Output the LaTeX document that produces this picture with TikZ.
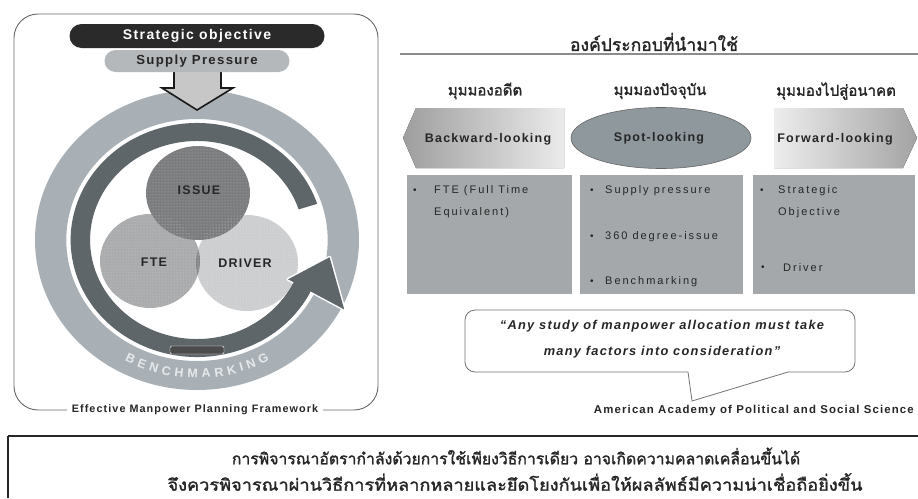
\documentclass[tikz,border=0pt]{standalone}
\usepackage{fontspec}
\setmainfont{Liberation Sans}
\newfontfamily\lsans[LetterSpace=10]{Liberation Sans}
\newfontfamily\lsanswide[LetterSpace=18]{Liberation Sans}
\newfontfamily\thai[Script=Thai, FakeBold=1.6]{Loma}
\usetikzlibrary{decorations.text,shapes.geometric,patterns}
\definecolor{pilldark}{HTML}{2A2A2A}
\definecolor{pilllight}{HTML}{B4B8BB}
\definecolor{ringlight}{HTML}{A9B0B5}
\definecolor{ringdark}{HTML}{5F666A}
\definecolor{issuec}{HTML}{7A7C7E}
\definecolor{ftec}{HTML}{A9ABAD}
\definecolor{driverc}{HTML}{CDCECF}
\definecolor{lensc}{HTML}{838587}
\definecolor{boxc}{HTML}{A4A8AB}
\definecolor{spotc}{HTML}{8F989D}
\definecolor{txt}{HTML}{262626}
\definecolor{benchc}{HTML}{E6E9EB}
\tikzset{
  pillstrat/.style={fill=pilldark, text=white, rounded corners=12pt, minimum width=255pt, minimum height=24pt, inner sep=0pt, font=\lsans\bfseries\fontsize{14}{14}\selectfont},
  pillsupply/.style={fill=pilllight, text=txt, rounded corners=11pt, minimum width=185pt, minimum height=22pt, inner sep=0pt, font=\lsans\bfseries\fontsize{13.2}{13.2}\selectfont},
  circlabel/.style={text=txt, font=\lsans\bfseries\fontsize{12.5}{12.5}\selectfont, inner sep=1pt},
  thaihead/.style={text=txt, font=\thai\fontsize{15}{15}\selectfont, inner sep=1pt},
  thaititle/.style={text=txt, font=\thai\fontsize{17.5}{17.5}\selectfont, inner sep=1pt},
  shapelabel/.style={text=txt, font=\lsans\bfseries\fontsize{12.5}{12.5}\selectfont, inner sep=1pt},
  boxtext/.style={text=black!85, anchor=west, font=\lsanswide\fontsize{11}{11}\selectfont, inner sep=0pt},
  bullet/.style={text=black!85, anchor=west, font=\fontsize{10}{10}\selectfont, inner sep=0pt},
  greybox/.style={fill=boxc},
  quote/.style={text=txt, font=\lsans\bfseries\itshape\fontsize{12.8}{12.8}\selectfont, inner sep=1pt},
  caption/.style={text=txt, font=\lsans\bfseries\fontsize{10.8}{10.8}\selectfont, inner sep=1pt},
  thaibottom/.style={text=txt, font=\thai\fontsize{#1}{#1}\selectfont, inner sep=1pt},
  dotted texture/.style={pattern=dots, pattern color=white},
}
\begin{document}
\begin{tikzpicture}[x=1pt,y=-1pt]
\useasboundingbox (0,0) rectangle (918,498);
\fill[white] (0,0) rectangle (918,498);

% ---------- left framework ----------
\draw[draw=black!60, line width=0.9pt, rounded corners=24pt] (14,14) rectangle (378,410);

\begin{scope}[shift={(197,240)}, x=1.08pt, y=1pt]
  \fill[ringlight, even odd rule] (0,0) circle (150) (0,0) circle (121);
  \fill[ringdark] (18:117) arc[start angle=18, end angle=337, radius=117]
     -- (337:99) arc[start angle=337, end angle=18, radius=99] -- cycle;
  \fill[black!70, draw=white!70, line width=0.4pt, rounded corners=2pt] (-25,-106) rectangle (25,-114);
  \path[decorate, decoration={text along path, text align=fit to path,
     text={|\bfseries\fontsize{12.5}{12.5}\selectfont\color{benchc}|BENCHMARKING}}]
     (241:138) arc[start angle=241, end angle=299, radius=138];
\end{scope}

% three circles
\fill[ftec] (150,261) ellipse[x radius=50, y radius=47];
\fill[driverc] (247,263) ellipse[x radius=51, y radius=48];
\begin{scope}
  \clip (150,261) ellipse[x radius=50, y radius=47];
  \fill[lensc] (247,263) ellipse[x radius=51, y radius=48];
\end{scope}
\fill[issuec] (198,193) ellipse[x radius=52, y radius=47];
\begin{scope}[opacity=0.45]
  \fill[dotted texture] (150,261) ellipse[x radius=50, y radius=47];
  \fill[dotted texture] (247,263) ellipse[x radius=51, y radius=48];
  \fill[dotted texture] (198,193) ellipse[x radius=52, y radius=47];
\end{scope}

% ring arrow head
\begin{scope}[shift={(197,240)}, x=1.08pt, y=1pt]
  \draw[white, line width=3pt, line join=round] (335:93) -- (352:124) -- (333:153) -- cycle;
  \fill[ringdark] (300:117) arc[start angle=300, end angle=337, radius=117]
     -- (337:99) arc[start angle=337, end angle=300, radius=99] -- cycle;
  \fill[ringdark] (335:93) -- (352:124) -- (333:153) -- cycle;
\end{scope}

\node[circlabel] (issue) at (199,190) {ISSUE};
\node[circlabel] (fte) at (154,262) {FTE};
\node[circlabel] (driver) at (245,263) {DRIVER};

% down arrow
\draw[fill=black!22, draw=black!90, line width=1.6pt, line join=miter]
  (174,66) -- (221,66) -- (221,88) -- (233,88) -- (197,110) -- (162,88) -- (174,88) -- cycle;

\node[pillstrat] (strat) at (197,36) {Strategic objective};
\node[pillsupply] (supply) at (197,61) {Supply Pressure};

\node[caption, fill=white, inner xsep=5pt] (frame) at (195,410) {Effective Manpower Planning Framework};

% ---------- right side ----------
\node[thaititle] (title) at (654,42) {องค์ประกอบที่นำมาใช้};
\draw[black!45, line width=2.5pt] (400,54) -- (918,54);

\node[thaihead] (hback) at (485,91) {มุมมองอดีต};
\node[thaihead] (hspot) at (660,91) {มุมมองปัจจุบัน};
\node[thaihead] (hfwd) at (836,91) {มุมมองไปสู่อนาคต};

\fill[left color=black!38, right color=black!8] (403,138) -- (416,108) -- (564,108) -- (564,168) -- (416,168) -- cycle;
\fill[left color=black!7, right color=black!36] (774,108) -- (903,108) -- (917,138) -- (903,168) -- (774,168) -- cycle;
\node[ellipse, fill=spotc, draw=black!60, line width=0.6pt, minimum width=180pt, minimum height=61pt, inner sep=0pt] (spot) at (661,138) {};

\node[shapelabel] (back) at (488,139) {Backward-looking};
\node[shapelabel] (spotl) at (659,138) {Spot-looking};
\node[shapelabel] (fwd) at (835,139) {Forward-looking};

\fill[greybox] (407,175) rectangle (572,294);
\fill[greybox] (580,175) rectangle (743,294);
\fill[greybox] (753,175) rectangle (915,294);

\node[bullet] (b11) at (413,191) {•};
\node[boxtext] (t11) at (434,191) {FTE (Full Time};
\node[boxtext] (t12) at (434,213) {Equivalent)};

\node[bullet] (b21) at (590,191) {•};
\node[boxtext] (t21) at (605,191) {Supply pressure};
\node[bullet] (b22) at (590,237) {•};
\node[boxtext] (t22) at (605,237) {360 degree-issue};
\node[bullet] (b23) at (590,282) {•};
\node[boxtext] (t23) at (605,282) {Benchmarking};

\node[bullet] (b31) at (760,191) {•};
\node[boxtext] (t31) at (778,191) {Strategic};
\node[boxtext] (t32) at (778,213) {Objective};
\node[bullet] (b32) at (761,268) {•};
\node[boxtext] (t33) at (783,268) {Driver};

% speech bubble
\coordinate (tailL) at (688,372);
\coordinate (tailTip) at (692,401);
\coordinate (tailR) at (788,372);
\draw[black!55, line width=0.8pt, rounded corners=10pt]
  (tailL) -- (465,372) -- (465,310) -- (855,310) -- (855,372) -- (tailR);
\draw[black!55, line width=0.8pt, line join=miter] (tailL) -- (tailTip) -- (tailR);
\node[quote] (q1) at (662,326) {“Any study of manpower allocation must take};
\node[quote] (q2) at (662,352) {many factors into consideration”};

\node[caption, anchor=east, font=\lsans\bfseries\fontsize{11.4}{11.4}\selectfont] (aapss) at (915,411) {American Academy of Political and Social Science};

% ---------- bottom statement ----------
\draw[black!85, line width=2.5pt] (8,436) -- (918,436);
\draw[black!85, line width=1.2pt] (8,436) -- (8,498);
\node[thaibottom=15.8] (l1) at (516,456) {การพิจารณาอัตรากำลังด้วยการใช้เพียงวิธีการเดียว อาจเกิดความคลาดเคลื่อนขึ้นได้};
\node[thaibottom=16.5] (l2) at (515,482) {\scalebox{1.1}[1]{จึงควรพิจารณาผ่านวิธีการที่หลากหลายและยึดโยงกันเพื่อให้ผลลัพธ์มีความน่าเชื่อถือยิ่งขึ้น}};
\end{tikzpicture}
\end{document}
